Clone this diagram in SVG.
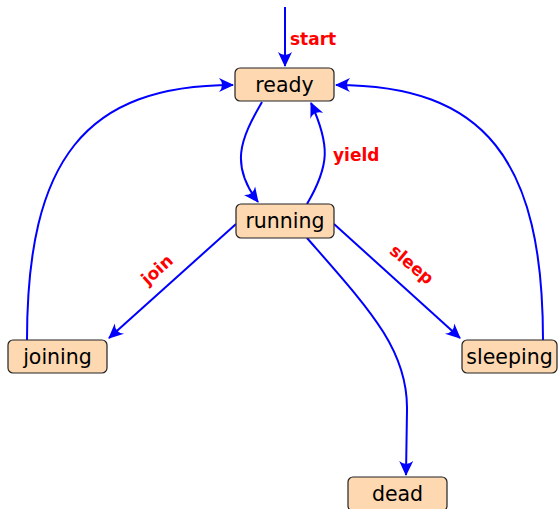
<svg xmlns="http://www.w3.org/2000/svg" width="558" height="509" viewBox="0 0 558 509">
<style>
.node rect{fill:#fdd8b1;stroke:#222;stroke-width:1.2}
.node text{font-family:"DejaVu Sans",sans-serif;font-size:20.5px;fill:#000;text-anchor:middle}
.edge{fill:none;stroke:#0000ff;stroke-width:2;marker-end:url(#ah)}
.lbl{font-family:"DejaVu Sans",sans-serif;font-size:17px;font-weight:bold;fill:#ff0000}
</style>
<defs>
<marker id="ah" viewBox="-15 -8 17 16" refX="0" refY="0" markerWidth="17" markerHeight="16" markerUnits="userSpaceOnUse" orient="auto">
<path d="M1,0 L-14,-7 Q-8,0 -14,7 Z" fill="#0000ff"/>
</marker>
</defs>
<g id="connectors">
<path class="edge" d="M285,7 L285,66"/>
<path class="edge" d="M262,102 C 240,140 230,165 258,202"/>
<path class="edge" d="M307,204 C 330,165 330,145 311,103"/>
<path class="edge" d="M236,224 L109,338"/>
<path class="edge" d="M334,224 L460,338"/>
<path class="edge" d="M307,238 C 370,310 408,350 407,410 L406,475"/>
<path class="edge" d="M27,340 C 27,160 85,85 233,85"/>
<path class="edge" d="M543,340 C 543,160 485,85 336,85"/>
<text class="lbl" x="290" y="45">start</text>
<text class="lbl" x="333" y="161">yield</text>
<text class="lbl" transform="translate(161,274) rotate(-42)" text-anchor="middle">join</text>
<text class="lbl" transform="translate(408,269) rotate(40)" text-anchor="middle">sleep</text>
</g>
<g id="ready" class="node"><rect x="235" y="68" width="99" height="33" rx="5"/><text x="284.5" y="92">ready</text></g>
<g id="running" class="node"><rect x="236" y="204" width="98" height="34" rx="5"/><text x="285" y="228">running</text></g>
<g id="joining" class="node"><rect x="8" y="340" width="99" height="33" rx="5"/><text x="57.5" y="364">joining</text></g>
<g id="sleeping" class="node"><rect x="462" y="340" width="95" height="33" rx="5"/><text x="509.5" y="364">sleeping</text></g>
<g id="dead" class="node"><rect x="348" y="477" width="99" height="34" rx="5"/><text x="397.5" y="501">dead</text></g>
</svg>
